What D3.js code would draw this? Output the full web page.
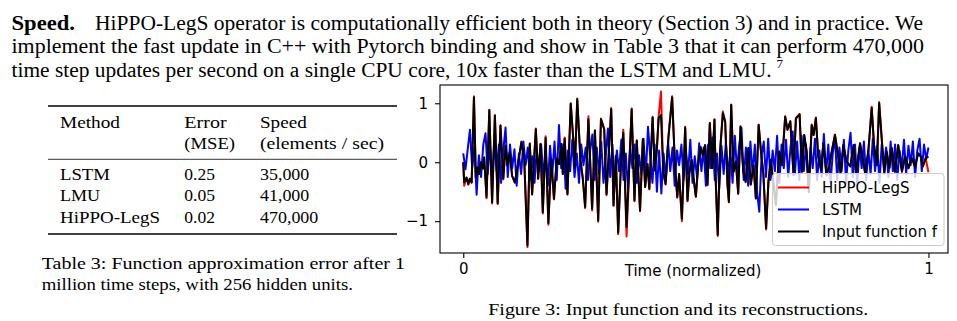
<!DOCTYPE html>
<html><head><meta charset="utf-8">
<script src="https://cdn.jsdelivr.net/npm/d3@7"></script>
<style>
html,body{margin:0;padding:0;background:#fff;}
svg{display:block;}
</style></head>
<body>
<script>
// ---------- data ----------
const timeSteps = [0.000,0.002,0.007,0.011,0.014,0.018,0.023,0.027,0.031,0.034,0.038,0.042,0.045,0.050,0.056,0.062,0.068,0.074,0.080,0.086,0.091,0.095,0.100,0.105,0.111,0.116,0.125,0.131,0.138,0.143,0.148,0.156,0.161,0.166,0.171,0.177,0.183,0.189,0.195,0.201,0.206,0.211,0.214,0.218,0.224,0.231,0.237,0.240,0.245,0.252,0.257,0.262,0.269,0.277,0.283,0.286,0.290,0.296,0.303,0.308,0.318,0.323,0.328,0.333,0.339,0.344,0.351,0.362,0.368,0.373,0.380,0.386,0.391,0.396,0.400,0.407,0.412,0.416,0.420,0.425,0.430,0.435,0.441,0.449,0.455,0.460,0.464,0.470,0.477,0.482,0.486,0.491,0.496,0.500,0.505,0.510,0.515,0.520,0.525,0.530,0.535,0.540,0.543,0.547,0.552,0.558,0.563,0.568,0.571,0.576,0.581,0.586,0.591,0.596,0.602,0.607,0.613,0.618,0.624,0.629,0.635,0.640,0.645,0.651,0.656,0.661,0.667,0.672,0.679,0.685,0.692,0.697,0.703,0.710,0.715,0.723,0.728,0.733,0.738,0.743,0.749,0.753,0.758,0.763,0.769,0.774,0.781,0.787,0.792,0.799,0.806,0.811,0.817,0.824,0.832,0.839,0.844,0.853,0.864,0.871,0.878,0.883,0.889,0.894,0.900,0.905,0.910,0.916,0.921,0.928,0.935,0.943,0.950,0.957,0.964,0.971,0.978,0.984,0.988,0.994,1.000];

const inputValues = [0.00,-0.34,-0.26,-0.37,-0.28,-0.34,1.10,-0.26,-0.09,-0.20,0.00,-0.11,0.08,-0.59,0.88,-0.68,0.79,-0.70,0.62,-0.28,0.28,-0.05,0.17,-0.23,-0.34,-0.11,0.34,0.06,-1.41,0.31,-0.54,0.56,-0.28,0.31,-0.85,0.41,-1.03,0.06,-0.62,0.06,-0.03,0.31,-0.20,0.40,-0.54,0.99,0.34,-0.09,1.07,0.03,-0.28,-0.76,0.73,-0.79,0.54,-0.11,-0.99,0.73,0.56,-0.54,0.90,-0.73,0.11,-1.19,-0.03,0.50,-1.10,0.90,-0.65,0.37,-0.82,0.39,-0.42,-0.03,-0.45,0.76,-0.14,0.20,0.75,0.80,-0.17,-0.37,0.42,1.10,-0.03,-0.59,-0.20,-0.96,0.59,-0.65,-0.19,0.04,-0.33,-0.58,-0.05,0.26,0.12,0.29,-0.38,0.66,-0.10,0.72,-0.38,-1.23,0.18,0.83,0.69,-0.38,-0.67,0.97,-0.16,0.01,-0.53,0.60,-0.16,-0.33,0.24,-0.38,-0.05,-0.61,0.63,0.18,-0.19,-1.12,-0.33,0.04,-0.38,-0.72,0.18,-0.05,0.77,0.55,0.69,-0.22,0.74,0.81,-0.16,0.46,0.18,-0.50,0.63,0.46,0.75,0.10,-0.13,0.32,-0.22,-0.05,0.18,0.46,0.10,-0.19,0.29,0.01,-0.07,0.29,-0.19,0.32,-0.19,0.21,0.92,0.29,-0.05,1.00,0.35,-0.19,0.18,-0.10,0.24,-0.16,0.29,-0.16,0.10,-0.10,0.07,-0.07,0.15,0.09,-0.07,0.07,0.10];

const hippoValues = [0.00,-0.40,-0.26,-0.38,-0.28,-0.35,1.12,-0.27,-0.09,-0.20,0.00,-0.11,0.08,-0.61,0.89,-0.70,0.80,-0.71,0.63,-0.29,0.28,-0.05,0.17,-0.23,-0.35,-0.11,0.35,0.06,-1.44,0.32,-0.55,0.57,-0.28,0.31,-0.87,0.44,-1.06,0.06,-0.63,0.06,-0.03,0.31,-0.20,0.42,-0.55,1.00,0.34,-0.09,1.08,0.03,-0.28,-0.78,0.78,-0.82,0.54,-0.11,-1.01,0.74,0.56,-0.56,0.92,-0.74,0.11,-1.22,-0.03,0.55,-1.26,0.91,-0.66,0.37,-0.83,0.39,-0.42,-0.03,-0.46,0.77,-0.14,0.20,0.78,1.20,-0.17,-0.38,0.42,1.12,-0.03,-0.60,-0.20,-1.00,0.60,-0.66,-0.19,0.04,-0.33,-0.59,-0.05,0.26,0.12,0.29,-0.39,0.67,-0.10,0.73,-0.38,-1.25,0.18,0.86,0.69,-0.38,-0.68,0.98,-0.16,0.01,-0.54,0.61,-0.16,-0.34,0.24,-0.38,-0.05,-0.62,0.64,0.18,-0.19,-1.14,-0.33,0.04,-0.38,-0.73,0.18,-0.05,0.78,0.55,0.70,-0.22,0.75,0.82,-0.16,0.46,0.18,-0.51,0.64,0.46,0.76,0.10,-0.13,0.32,-0.22,-0.05,0.18,0.47,0.10,-0.19,0.29,0.01,-0.07,0.29,-0.19,0.32,-0.19,0.21,0.94,0.29,-0.05,1.02,0.35,-0.20,0.18,-0.10,0.24,-0.16,0.29,-0.16,0.10,-0.10,0.07,-0.07,0.15,0.09,-0.07,0.07,-0.17];

const lstmValues = [0.15,-0.12,0.22,0.55,-0.10,0.25,-0.55,0.12,-0.25,0.30,
0.49,-0.20,0.28,-0.30,0.35,-0.15,0.30,-0.35,0.20,0.59,
-0.25,0.30,-0.10,0.22,-0.40,0.15,-0.20,0.35,-0.05,0.25,
-0.30,0.10,-0.35,0.20,-0.15,0.30,-0.25,0.15,-0.40,0.28,
-0.20,0.35,-0.30,0.63,-0.10,0.30,-0.45,0.20,-0.15,0.38,
-0.25,0.15,-0.35,0.30,-0.05,0.25,-0.30,0.20,0.47,-0.30,
0.25,-0.20,0.35,-0.35,0.10,0.57,-0.25,0.30,-0.40,0.20,
-0.15,0.38,-0.30,0.15,-0.45,0.25,-0.10,0.30,-0.35,0.12,
-0.20,0.40,-0.25,0.60,0.10,-0.35,0.30,-0.50,0.20,-0.53,
0.15,-0.30,0.35,-0.15,0.25,-0.40,0.20,-0.05,0.30,-0.30,
0.22,-0.20,0.38,-0.35,0.10,-0.25,0.32,-0.15,0.25,-0.40,
0.30,-0.10,0.42,-0.30,0.15,-0.45,0.28,-0.20,0.35,-0.25,
0.20,-0.35,0.45,-0.15,0.30,0.58,-0.30,0.25,-0.40,0.35,
-0.20,0.30,-0.50,-0.84,0.10,0.35,-0.25,0.40,-0.30,0.20,
-0.15,0.45,-0.35,0.30,-0.10,0.38,-0.25,0.25,0.52,-0.20,
0.35,-0.30,0.45,-0.15,0.30,-0.40,0.25,-0.10,0.40,-0.30,
0.20,-0.25,0.48,-0.20,0.30,-0.35,0.15,0.42,-0.30,0.25,
-0.15,0.38,-0.35,0.20,0.50,-0.25,0.30,-0.40,0.25,-0.10,
0.35,-0.30,0.20,-0.20,0.40,-0.15,0.28,-0.35,0.30,-0.05,
0.25,-0.25,0.35,-0.15,0.30,-0.30,0.20,-0.10,0.38,-0.20,
0.28,-0.05,0.35,-0.25,0.20,0.40,-0.15,0.30,0.05,0.25];

const xTicks = [0, 1];
const xTickLabels = ["0", "1"];
const yTicks = [-1, 0, 1];
const yTickLabels = ["\u22121", "0", "1"];
const seriesNames = ["HiPPO-LegS", "LSTM", "Input function f"];
const seriesColors = ["#ff0000", "#0000ff", "#000000"];

const tableHeader1 = ["Method", "Error", "Speed"];
const tableHeader2 = ["", "(MSE)", "(elements / sec)"];
const tableMethods = ["LSTM", "LMU", "HiPPO-LegS"];
const tableErrors = ["0.25", "0.05", "0.02"];
const tableSpeeds = ["35,000", "41,000", "470,000"];

// ---------- drawing ----------
(function () {
const W = 957, H = 321;
const svg = d3.select("body").append("svg").attr("width", W).attr("height", H);
const serif = "'Liberation Serif','Times New Roman',serif";
const sans = "'DejaVu Sans',sans-serif";

function stext(x, y, str, size, len, opts = {}) {
  const t = svg.append("text").attr("x", x).attr("y", y).text(str)
    .attr("font-family", opts.family || serif).attr("font-size", size)
    .attr("fill", "#000");
  if (opts.bold) t.attr("font-weight", "bold");
  if (len) t.attr("textLength", len).attr("lengthAdjust", "spacingAndGlyphs");
  if (opts.anchor) t.attr("text-anchor", opts.anchor);
  return t;
}

// Paragraph
stext(11.5, 30, "Speed.", 20, 63.5, {bold: true});
stext(95, 30, "HiPPO-LegS operator is computationally efficient both in theory (Section 3) and in practice. We", 20, 828);
stext(11.5, 53.3, "implement the fast update in C++ with Pytorch binding and show in Table 3 that it can perform 470,000", 20, 912.5);
stext(11.5, 76.5, "time step updates per second on a single CPU core, 10x faster than the LSTM and LMU.", 20, 760);
stext(776.5, 68.3, "7", 13, null);

// Table
const colX = [60, 184.3, 260];
const rule = (yy, w) => svg.append("line").attr("x1", 48).attr("x2", 397).attr("y1", yy).attr("y2", yy)
  .attr("stroke", "#000").attr("stroke-width", w);
rule(106, 1.3); rule(159.3, 0.8); rule(234, 1.3);
const h1Len = [60, 42.3, 46.7], h2Len = [0, 50.7, 124];
tableHeader1.forEach((s, i) => stext(colX[i], 127.7, s, 17.5, h1Len[i]));
tableHeader2.forEach((s, i) => { if (s) stext(colX[i], 149.3, s, 17.5, h2Len[i]); });
const rowY = [179.5, 201, 222.7];
const mLen = [50, 40, 100], sLen = [49.3, 49.3, 58.3];
tableMethods.forEach((s, i) => {
  stext(colX[0], rowY[i], s, 17.5, mLen[i]);
  stext(colX[1], rowY[i], tableErrors[i], 17.5, 30.7);
  stext(colX[2], rowY[i], tableSpeeds[i], 17.5, sLen[i]);
});

// Captions
stext(41.7, 268.5, "Table 3: Function approximation error after 1", 17.5, 363.3);
stext(41.7, 290.2, "million time steps, with 256 hidden units.", 17.5, 311.3);
stext(488.3, 314.5, "Figure 3: Input function and its reconstructions.", 17.5, 380);

// Chart
const pl = 440, pr = 948, pt = 85, pb = 253;
const x = d3.scaleLinear().domain([-0.05, 1.042]).range([pl, pr]);
const y = d3.scaleLinear().domain([-1.54, 1.31]).range([pb, pt]);

const g = svg.append("g");
const line = d3.line().x(d => x(d[0])).y(d => y(d[1]));
const lstmT = lstmValues.map((v, i) => i / (lstmValues.length - 1));
const series = [
  timeSteps.map((t, i) => [t, hippoValues[i]]),
  lstmT.map((t, i) => [t, lstmValues[i]]),
  timeSteps.map((t, i) => [t, inputValues[i]])
];
series.forEach((d, i) => {
  g.append("path").datum(d).attr("d", line).attr("fill", "none")
    .attr("stroke", seriesColors[i]).attr("stroke-width", 2)
    .attr("stroke-linejoin", "round").attr("stroke-linecap", "butt");
});

// axes
const xAxis = d3.axisBottom(x).tickValues(xTicks).tickFormat((d, i) => xTickLabels[i]).tickSize(5).tickPadding(5);
const yAxis = d3.axisLeft(y).tickValues(yTicks).tickFormat((d, i) => yTickLabels[i]).tickSize(5).tickPadding(7);
const gx = svg.append("g").attr("transform", `translate(0,${pb})`).call(xAxis);
const gy = svg.append("g").attr("transform", `translate(${pl},0)`).call(yAxis);
[gx, gy].forEach(a => {
  a.select(".domain").remove();
  a.selectAll("line").attr("stroke", "#000").attr("stroke-width", 1.1);
  a.selectAll("text").attr("font-family", sans).attr("font-size", 15).attr("fill", "#000");
});
gx.selectAll("text").attr("dy", "0.71em");

svg.append("rect").attr("x", pl).attr("y", pt).attr("width", pr - pl).attr("height", pb - pt)
  .attr("fill", "none").attr("stroke", "#000").attr("stroke-width", 1.1);

svg.append("text").attr("x", (pl + pr) / 2 - 1).attr("y", 275.5).attr("text-anchor", "middle")
  .attr("font-family", sans).attr("font-size", 15).attr("fill", "#000").text("Time (normalized)");

// legend
const lg = svg.append("g");
lg.append("rect").attr("x", 772.5).attr("y", 173.5).attr("width", 171.5).attr("height", 72).attr("rx", 3)
  .attr("fill", "#fff").attr("fill-opacity", 0.8).attr("stroke", "#cccccc").attr("stroke-width", 1);
seriesNames.forEach((s, i) => {
  const yy = 187.5 + i * 22;
  lg.append("line").attr("x1", 778).attr("x2", 809).attr("y1", yy).attr("y2", yy)
    .attr("stroke", seriesColors[i]).attr("stroke-width", 2);
  lg.append("text").attr("x", 822).attr("y", yy).attr("dy", "0.36em").attr("font-family", sans)
    .attr("font-size", 15).attr("fill", "#000").text(s);
});
})();
</script>
</body></html>
